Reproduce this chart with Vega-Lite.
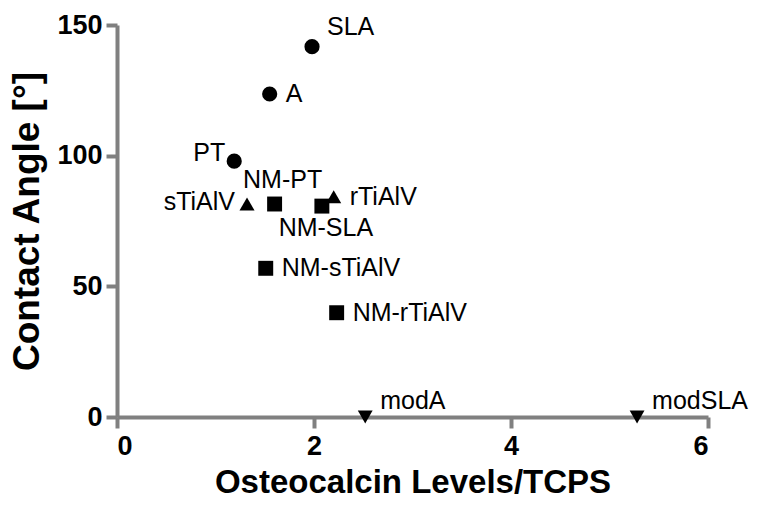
{
  "$schema": "https://vega.github.io/schema/vega-lite/v6.json",
  "width": 591,
  "height": 392,
  "autosize": {"type": "none"},
  "padding": {"left": 117, "top": 25, "right": 56, "bottom": 102},
  "background": "white",
  "config": {
    "view": {"stroke": null},
    "font": "Liberation Sans",
    "axis": {
      "grid": false,
      "domainColor": "#808080",
      "domainWidth": 4,
      "tickColor": "#808080",
      "tickWidth": 4,
      "tickSize": 11,
      "labelFont": "Liberation Sans",
      "labelFontWeight": "bold",
      "labelFontSize": 27,
      "labelColor": "black",
      "titleFont": "Liberation Sans",
      "titleFontWeight": "bold",
      "titleColor": "black"
    }
  },
  "data": {
    "values": [
      {"label": "SLA", "group": "unmodified", "osteocalcin": 1.98, "angle": 141.7},
      {"label": "A", "group": "unmodified", "osteocalcin": 1.55, "angle": 123.6},
      {"label": "PT", "group": "unmodified", "osteocalcin": 1.19, "angle": 97.9},
      {"label": "sTiAlV", "group": "TiAlV", "osteocalcin": 1.32, "angle": 81.5},
      {"label": "rTiAlV", "group": "TiAlV", "osteocalcin": 2.2, "angle": 84.3},
      {"label": "NM-PT", "group": "NM", "osteocalcin": 1.6, "angle": 81.5},
      {"label": "NM-SLA", "group": "NM", "osteocalcin": 2.08, "angle": 80.7},
      {"label": "NM-sTiAlV", "group": "NM", "osteocalcin": 1.51, "angle": 56.9},
      {"label": "NM-rTiAlV", "group": "NM", "osteocalcin": 2.23, "angle": 39.9},
      {"label": "modA", "group": "mod", "osteocalcin": 2.52, "angle": 0},
      {"label": "modSLA", "group": "mod", "osteocalcin": 5.28, "angle": 0}
    ]
  },
  "encoding": {
    "x": {
      "field": "osteocalcin",
      "type": "quantitative",
      "scale": {"domain": [0, 6], "nice": false, "zero": false},
      "axis": {"values": [0, 2, 4, 6], "title": "Osteocalcin Levels/TCPS", "titleFontSize": 33, "labelPadding": 5, "titlePadding": 7}
    },
    "y": {
      "field": "angle",
      "type": "quantitative",
      "scale": {"domain": [0, 150], "nice": false},
      "axis": {"values": [0, 50, 100, 150], "title": "Contact Angle [°]", "titleFontSize": 37, "labelPadding": 4, "titlePadding": 10}
    }
  },
  "layer": [
    {
      "mark": {"type": "point", "filled": true, "opacity": 1, "color": "black"},
      "encoding": {
        "shape": {
          "field": "group",
          "type": "nominal",
          "scale": {"domain": ["unmodified", "TiAlV", "NM", "mod"], "range": ["circle", "triangle-up", "square", "triangle-down"]},
          "legend": null
        },
        "size": {
          "field": "group",
          "type": "nominal",
          "scale": {"domain": ["unmodified", "TiAlV", "NM", "mod"], "range": [230, 220, 260, 220]},
          "legend": null
        }
      }
    },
    {
      "transform": [{"filter": {"field": "label", "oneOf": ["A", "rTiAlV", "NM-sTiAlV", "NM-rTiAlV"]}}],
      "mark": {"type": "text", "align": "left", "baseline": "middle", "dx": 16, "fontSize": 25, "color": "black"},
      "encoding": {"text": {"field": "label"}}
    },
    {
      "transform": [{"filter": {"field": "label", "equal": "SLA"}}],
      "mark": {"type": "text", "align": "left", "baseline": "middle", "dx": 15, "dy": -20, "fontSize": 25, "color": "black"},
      "encoding": {"text": {"field": "label"}}
    },
    {
      "transform": [{"filter": {"field": "group", "equal": "mod"}}],
      "mark": {"type": "text", "align": "left", "baseline": "middle", "dx": 15, "dy": -16, "fontSize": 25, "color": "black"},
      "encoding": {"text": {"field": "label"}}
    },
    {
      "transform": [{"filter": {"field": "label", "equal": "PT"}}],
      "mark": {"type": "text", "align": "right", "baseline": "middle", "dx": -9, "dy": -8, "fontSize": 25, "color": "black"},
      "encoding": {"text": {"field": "label"}}
    },
    {
      "transform": [{"filter": {"field": "label", "equal": "sTiAlV"}}],
      "mark": {"type": "text", "align": "right", "baseline": "middle", "dx": -12, "dy": -2, "fontSize": 25, "color": "black"},
      "encoding": {"text": {"field": "label"}}
    },
    {
      "transform": [{"filter": {"field": "label", "equal": "NM-PT"}}],
      "mark": {"type": "text", "align": "center", "baseline": "middle", "dx": 8, "dy": -24, "fontSize": 25, "color": "black"},
      "encoding": {"text": {"field": "label"}}
    },
    {
      "transform": [{"filter": {"field": "label", "equal": "NM-SLA"}}],
      "mark": {"type": "text", "align": "center", "baseline": "middle", "dx": 4, "dy": 22, "fontSize": 25, "color": "black"},
      "encoding": {"text": {"field": "label"}}
    }
  ]
}
